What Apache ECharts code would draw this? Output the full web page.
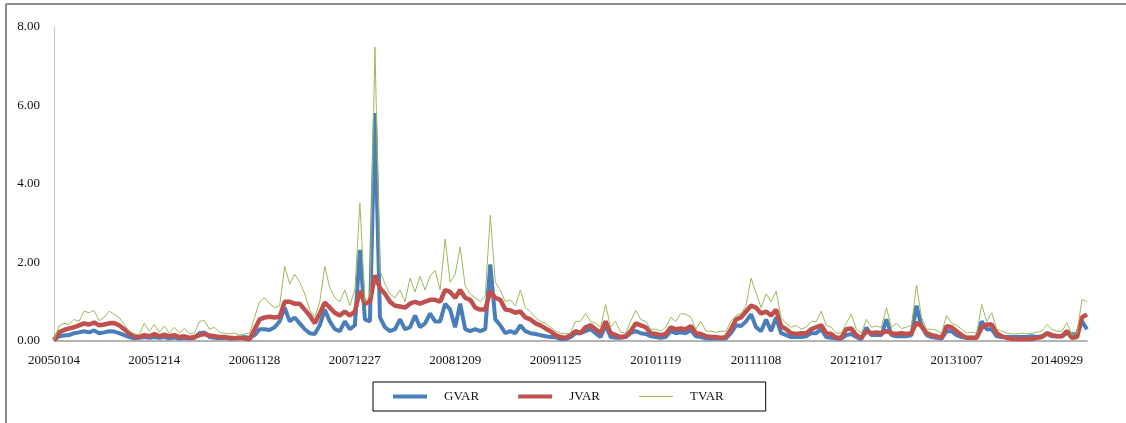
<!DOCTYPE html>
<html>
<head>
<meta charset="utf-8">
<script src="https://cdn.jsdelivr.net/npm/echarts@6/dist/echarts.min.js"></script>
<style>
  html, body { margin: 0; padding: 0; background: #ffffff; }
  #chart { width: 1126px; height: 423px; }
</style>
</head>
<body>
<div id="chart"></div>
<script>
// Date labels shown on the horizontal axis, one every `step` samples
const dates = ['20050104', '20051214', '20061128', '20071227', '20081209', '20091125',
               '20101119', '20111108', '20121017', '20131007', '20140929'];
const step = 20;

const yTicks = [0, 2, 4, 6, 8];

// GVAR samples
const gvar = [
  0.02, 0.12, 0.14, 0.15, 0.20, 0.22, 0.25, 0.22, 0.27, 0.20,
  0.22, 0.25, 0.24, 0.20, 0.15, 0.10, 0.07, 0.08, 0.10, 0.08,
  0.10, 0.08, 0.10, 0.07, 0.09, 0.06, 0.08, 0.06, 0.08, 0.20,
  0.22, 0.10, 0.08, 0.07, 0.08, 0.06, 0.07, 0.08, 0.10, 0.08,
  0.15, 0.30, 0.30, 0.28, 0.35, 0.50, 0.85, 0.50, 0.60, 0.45,
  0.30, 0.20, 0.18, 0.40, 0.80, 0.50, 0.30, 0.25, 0.50, 0.30,
  0.40, 2.32, 0.55, 0.50, 5.81, 0.60, 0.35, 0.25, 0.30, 0.55,
  0.30, 0.35, 0.65, 0.35, 0.45, 0.70, 0.50, 0.50, 0.95, 0.80,
  0.35, 0.95, 0.30, 0.25, 0.30, 0.25, 0.30, 1.95, 0.55, 0.40,
  0.20, 0.25, 0.20, 0.40, 0.25, 0.20, 0.18, 0.15, 0.12, 0.10,
  0.10, 0.05, 0.05, 0.10, 0.20, 0.20, 0.25, 0.30, 0.20, 0.10,
  0.40, 0.10, 0.08, 0.08, 0.10, 0.20, 0.25, 0.20, 0.18, 0.12,
  0.10, 0.08, 0.10, 0.25, 0.20, 0.22, 0.20, 0.28, 0.12, 0.10,
  0.07, 0.06, 0.07, 0.06, 0.07, 0.20, 0.40, 0.38, 0.50, 0.68,
  0.35, 0.25, 0.55, 0.25, 0.60, 0.20, 0.15, 0.10, 0.10, 0.10,
  0.12, 0.20, 0.20, 0.30, 0.10, 0.08, 0.06, 0.06, 0.15, 0.18,
  0.10, 0.05, 0.34, 0.15, 0.15, 0.15, 0.55, 0.15, 0.12, 0.12,
  0.12, 0.15, 0.90, 0.38, 0.15, 0.10, 0.08, 0.06, 0.25, 0.25,
  0.15, 0.10, 0.08, 0.08, 0.08, 0.50, 0.30, 0.30, 0.12, 0.10,
  0.10, 0.10, 0.10, 0.10, 0.10, 0.12, 0.10, 0.12, 0.18, 0.12,
  0.12, 0.12, 0.20, 0.17, 0.17, 0.50, 0.30
];

// JVAR samples
const jvar = [
  0.02, 0.22, 0.28, 0.32, 0.35, 0.40, 0.45, 0.42, 0.47, 0.40,
  0.42, 0.45, 0.46, 0.40, 0.30, 0.20, 0.12, 0.10, 0.15, 0.12,
  0.18, 0.12, 0.16, 0.12, 0.15, 0.10, 0.12, 0.08, 0.10, 0.15,
  0.18, 0.14, 0.12, 0.10, 0.10, 0.08, 0.07, 0.08, 0.07, 0.04,
  0.30, 0.55, 0.60, 0.62, 0.60, 0.62, 1.00, 1.00, 0.95, 0.95,
  0.80, 0.65, 0.45, 0.70, 0.98, 0.85, 0.72, 0.65, 0.75, 0.65,
  0.75, 1.28, 0.95, 1.00, 1.67, 1.35, 1.20, 1.00, 0.90, 0.88,
  0.85, 0.95, 1.00, 0.95, 1.00, 1.05, 1.05, 1.00, 1.30, 1.25,
  1.10, 1.30, 1.10, 1.05, 0.85, 0.80, 0.80, 1.27, 1.10, 1.05,
  0.80, 0.78, 0.72, 0.75, 0.60, 0.55, 0.45, 0.40, 0.32, 0.25,
  0.15, 0.10, 0.08, 0.15, 0.25, 0.20, 0.35, 0.40, 0.30, 0.20,
  0.50, 0.20, 0.15, 0.10, 0.12, 0.25, 0.45, 0.40, 0.35, 0.20,
  0.18, 0.15, 0.18, 0.35, 0.30, 0.32, 0.30, 0.38, 0.20, 0.18,
  0.12, 0.10, 0.10, 0.08, 0.10, 0.30, 0.55, 0.60, 0.75, 0.90,
  0.85, 0.70, 0.75, 0.65, 0.80, 0.38, 0.30, 0.20, 0.18, 0.20,
  0.20, 0.30, 0.35, 0.40, 0.20, 0.18, 0.08, 0.08, 0.30, 0.32,
  0.15, 0.08, 0.25, 0.20, 0.22, 0.20, 0.25, 0.20, 0.18, 0.20,
  0.18, 0.20, 0.47, 0.38, 0.20, 0.15, 0.12, 0.08, 0.38, 0.35,
  0.25, 0.15, 0.08, 0.08, 0.08, 0.34, 0.42, 0.42, 0.20, 0.12,
  0.08, 0.05, 0.05, 0.05, 0.05, 0.05, 0.08, 0.10, 0.20, 0.15,
  0.12, 0.12, 0.25, 0.08, 0.10, 0.60, 0.68
];

// TVAR samples
const tvar = [
  0.03, 0.38, 0.45, 0.42, 0.55, 0.50, 0.76, 0.72, 0.78, 0.52,
  0.60, 0.76, 0.68, 0.60, 0.42, 0.25, 0.18, 0.16, 0.45, 0.25,
  0.42, 0.22, 0.38, 0.20, 0.35, 0.20, 0.32, 0.18, 0.20, 0.50,
  0.52, 0.30, 0.35, 0.22, 0.20, 0.18, 0.20, 0.15, 0.18, 0.20,
  0.60, 1.00, 1.10, 0.95, 0.85, 0.90, 1.90, 1.45, 1.70, 1.50,
  1.20, 0.80, 0.60, 1.00, 1.90, 1.35, 1.10, 1.00, 1.30, 0.90,
  1.30, 3.52, 1.00, 1.15, 7.49, 1.80, 1.45, 1.20, 1.10, 1.30,
  1.00, 1.60, 1.25, 1.65, 1.30, 1.65, 1.80, 1.30, 2.60, 1.50,
  1.70, 2.40, 1.40, 1.20, 1.10, 1.00, 1.15, 3.20, 1.50, 1.30,
  1.00, 1.05, 0.90, 1.30, 0.85, 0.75, 0.60, 0.50, 0.45, 0.35,
  0.25, 0.20, 0.18, 0.20, 0.50, 0.50, 0.70, 0.50, 0.45, 0.35,
  0.93, 0.35, 0.50, 0.22, 0.20, 0.50, 0.78, 0.55, 0.50, 0.30,
  0.30, 0.25, 0.35, 0.60, 0.50, 0.70, 0.68, 0.60, 0.30, 0.50,
  0.25, 0.25, 0.22, 0.25, 0.25, 0.50, 0.65, 0.70, 0.90, 1.60,
  1.23, 0.85, 1.20, 1.00, 1.27, 0.60, 0.45, 0.35, 0.40, 0.30,
  0.35, 0.50, 0.50, 0.76, 0.40, 0.35, 0.20, 0.20, 0.45, 0.68,
  0.30, 0.20, 0.55, 0.35, 0.38, 0.35, 0.85, 0.35, 0.45, 0.32,
  0.35, 0.40, 1.42, 0.60, 0.30, 0.30, 0.28, 0.20, 0.65, 0.45,
  0.40, 0.30, 0.20, 0.22, 0.20, 0.93, 0.50, 0.72, 0.30, 0.25,
  0.20, 0.18, 0.18, 0.20, 0.18, 0.20, 0.22, 0.25, 0.42, 0.30,
  0.25, 0.25, 0.47, 0.15, 0.20, 1.06, 1.00
];

// One category per sample; only every `step`-th one carries a date label
const categories = gvar.map((_, i) => String(i));

const serif = "'Liberation Serif', 'Times New Roman', serif";

// Legend swatches: plain horizontal bars, thick for GVAR/JVAR and hairline for TVAR
const thickBar = 'path://M0,0H34V4H0Z';
const thinBar = 'path://M0,0H34V1H0Z';

const chart = echarts.init(document.getElementById('chart'), null, { renderer: 'canvas' });

chart.setOption({
  animation: false,
  backgroundColor: '#ffffff',
  grid: { left: 54, right: 39, top: 27, bottom: 82, containLabel: false },
  legend: {
    left: 373,
    top: 382,
    orient: 'horizontal',
    itemWidth: 34,
    itemHeight: 4,
    itemGap: 39,
    padding: [8, 42, 8, 20],
    borderColor: '#000000',
    borderWidth: 1,
    textStyle: { fontFamily: serif, fontSize: 13, color: '#111111', padding: [0, 0, 0, 12] },
    data: [
      { name: 'GVAR', icon: thickBar },
      { name: 'JVAR', icon: thickBar },
      { name: 'TVAR', icon: thinBar }
    ]
  },
  xAxis: {
    type: 'category',
    data: categories,
    boundaryGap: false,
    axisLine: { show: true, lineStyle: { color: '#9a9a9a', width: 1.5 } },
    axisTick: { show: false },
    splitLine: { show: false },
    axisLabel: {
      interval: step - 1,
      margin: 13,
      fontFamily: serif,
      fontSize: 13,
      color: '#111111',
      formatter: (value, idx) => (idx % step === 0 ? dates[idx / step] : '')
    }
  },
  yAxis: {
    type: 'value',
    min: yTicks[0],
    max: yTicks[yTicks.length - 1],
    interval: yTicks[1] - yTicks[0],
    axisLine: { show: true, lineStyle: { color: '#c4c4c4', width: 1 } },
    axisTick: { show: false },
    splitLine: { show: false },
    axisLabel: {
      margin: 14,
      fontFamily: serif,
      fontSize: 13,
      color: '#111111',
      formatter: v => v.toFixed(2)
    }
  },
  series: [
    {
      name: 'GVAR', type: 'line', data: gvar, symbol: 'none',
      lineStyle: { color: '#4a7ebb', width: 4 }, itemStyle: { color: '#4a7ebb' }, z: 2
    },
    {
      name: 'JVAR', type: 'line', data: jvar, symbol: 'none',
      lineStyle: { color: '#c0504d', width: 4.5 }, itemStyle: { color: '#c0504d' }, z: 3
    },
    {
      name: 'TVAR', type: 'line', data: tvar, symbol: 'none',
      lineStyle: { color: '#9bbb59', width: 1 }, itemStyle: { color: '#9bbb59' }, z: 4
    }
  ],
  graphic: [
    // outer frame: top and left edges
    { type: 'line', shape: { x1: 6, y1: 4, x2: 1126, y2: 4 }, style: { stroke: '#8a8a8a', lineWidth: 2 } },
    { type: 'line', shape: { x1: 6, y1: 4, x2: 6, y2: 423 }, style: { stroke: '#8a8a8a', lineWidth: 2 } }
  ]
});
</script>
</body>
</html>
